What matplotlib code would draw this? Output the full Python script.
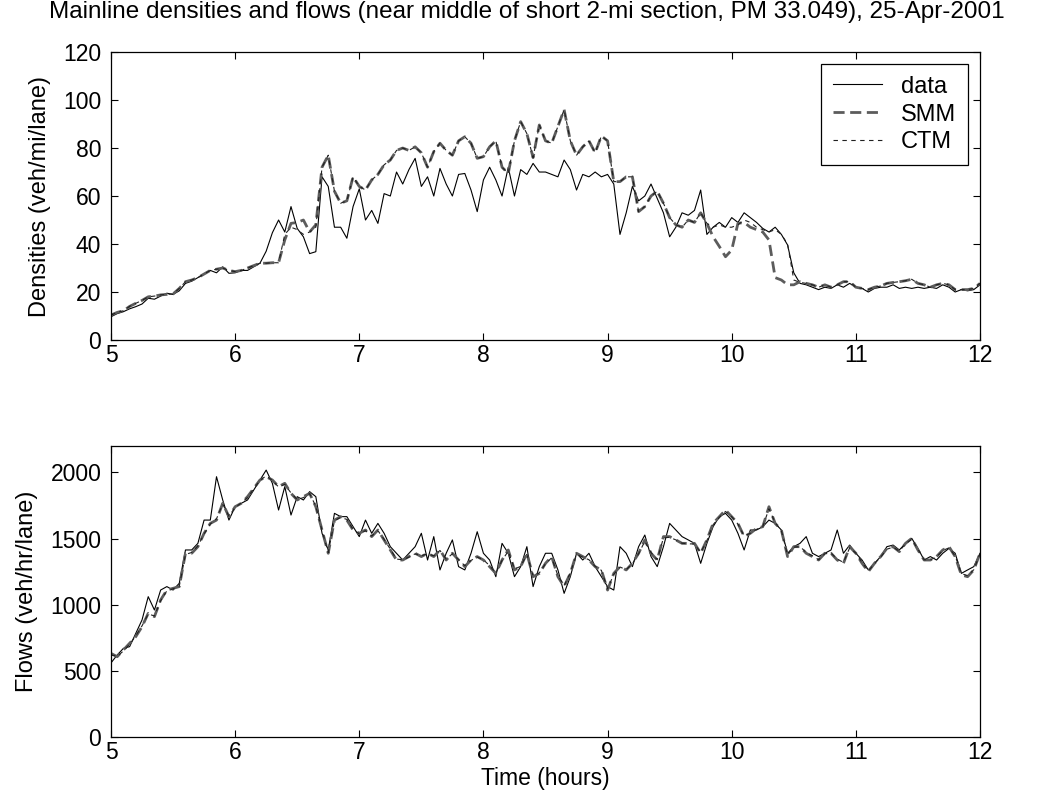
import numpy as np
import matplotlib
matplotlib.use('Agg')
from matplotlib import pyplot as plt

plt.rcParams['font.family'] = ['Liberation Sans', 'DejaVu Sans']

# sample times, every 3 minutes from 5:00 to 12:00
hours = np.linspace(5, 12, 141)

dens_data = [9.7, 11, 11.8, 13, 13.9, 15, 17.4, 17, 18.3, 19.5,
             19, 20.5, 23.6, 24.5, 26, 27.5, 29, 28, 30.5, 27.8,
             28, 29, 29, 30.5, 32, 37, 44.7, 50, 45, 55.6,
             46.5, 43, 36, 36.8, 68, 64, 47, 47, 42.4, 55.6,
             63, 50, 54, 48.6, 61, 60, 70, 65, 71, 75.7,
             64, 68, 60, 71.5, 65, 60, 69, 69.4, 62.5, 53.5,
             66.7, 72, 66.7, 60, 72, 60, 71, 69, 73.6, 70,
             70, 69, 68, 75, 71, 62.5, 69, 68, 70, 68,
             69, 65, 44, 53, 64, 58, 60, 65, 59, 53,
             43, 47, 53, 52, 54, 62.5, 44, 47, 49, 47,
             51, 49, 53, 51, 49, 46.5, 45, 47, 44, 39.6,
             28, 23.6, 23, 22, 21, 22, 21.5, 23, 22, 23.6,
             22, 21.5, 20, 21.5, 22, 22, 23, 21.5, 22, 21.5,
             22, 21.5, 22, 21.5, 23, 22, 20, 21, 20.5, 21,
             23]

dens_smm = [10.4, 11.5, 12.2, 14, 15.3, 16.5, 18, 18.3, 18.8, 19,
            19.2, 21.5, 24.3, 25, 26, 27.5, 29, 29.5, 30, 29,
            28.5, 29, 30, 31, 32, 32, 32.2, 32.2, 41.7, 48.6,
            49, 50, 45, 48, 72, 77, 62, 57, 58, 68,
            64, 62.5, 66.7, 69, 73, 75, 79, 80, 79, 80.5,
            78, 72, 78.5, 82, 79, 77, 83, 84.7, 82, 75.7,
            76.4, 80.5, 83, 72, 69.4, 83, 91, 86, 76, 89.6,
            83, 82, 89, 96, 83, 77, 80.5, 83, 78, 85,
            83, 66, 66, 68, 68, 53.5, 55.6, 60, 62, 57,
            51, 48, 47, 50, 49, 53, 48.6, 43, 39, 34.7,
            37.5, 48.6, 49, 47, 46, 45, 41.7, 26, 25, 23,
            23, 24.3, 23.6, 23, 22, 23, 22, 23, 24.3, 24.3,
            22, 21.5, 21, 22, 22.5, 23.6, 24, 24.3, 24.7, 25.3,
            23.6, 23, 22, 23, 23.6, 23, 21, 21, 21, 21.5,
            23.6]

dens_ctm = [10.4, 11.5, 12.2, 14, 15.3, 16.5, 18, 18.3, 18.8, 19,
            19.2, 21.5, 24.3, 25, 26, 27.5, 29, 29.5, 30, 29,
            28.5, 29, 30, 31, 32, 32, 32.2, 32.2, 44, 47,
            46, 44, 45, 47, 72, 77, 62, 57, 58, 68,
            64, 62.5, 66.7, 69, 73, 75, 79, 80, 79, 80.5,
            78, 72, 78.5, 82, 79, 77, 83, 84.7, 82, 75.7,
            76.4, 80.5, 83, 72, 69.4, 83, 91, 86, 76, 89.6,
            83, 82, 89, 96, 83, 77, 80.5, 83, 78, 85,
            83, 66, 66, 68, 68, 53.5, 55.6, 60, 62, 57,
            51, 48, 47, 50, 49, 53, 48.6, 47, 48, 47,
            47, 48, 50, 49, 47, 46, 45, 46, 44, 40,
            25, 24, 23.6, 23, 22, 23, 22, 23, 24.3, 24.3,
            22, 21.5, 21, 22, 22.5, 23.6, 24, 24.3, 24.7, 25.3,
            23.6, 23, 22, 23, 23.6, 23, 21, 21, 21, 21.5,
            23.6]

flow_data = [560, 620, 670, 683, 784, 885, 1061, 960, 1111, 1137,
             1111, 1162, 1414, 1414, 1464, 1640, 1640, 1968, 1792, 1640,
             1741, 1767, 1792, 1867, 1943, 2018, 1918, 1716, 1893, 1678,
             1817, 1792, 1855, 1817, 1540, 1414, 1691, 1666, 1666, 1590,
             1515, 1640, 1540, 1615, 1540, 1439, 1389, 1338, 1389, 1439,
             1540, 1338, 1515, 1263, 1389, 1490, 1288, 1263, 1389, 1552,
             1389, 1338, 1212, 1464, 1389, 1212, 1288, 1439, 1137, 1288,
             1389, 1389, 1263, 1086, 1212, 1389, 1338, 1389, 1288, 1212,
             1137, 1111, 1439, 1389, 1288, 1439, 1527, 1364, 1288, 1439,
             1615, 1565, 1515, 1490, 1464, 1313, 1464, 1590, 1666, 1691,
             1640, 1540, 1414, 1565, 1565, 1590, 1640, 1615, 1565, 1389,
             1439, 1464, 1515, 1389, 1364, 1389, 1414, 1565, 1389, 1451,
             1389, 1338, 1263, 1313, 1364, 1439, 1451, 1414, 1464, 1502,
             1426, 1338, 1364, 1338, 1389, 1426, 1389, 1237, 1263, 1288,
             1389]

flow_smm = [632, 607, 658, 708, 759, 834, 935, 910, 1036, 1111,
            1124, 1137, 1389, 1389, 1439, 1540, 1615, 1640, 1767, 1666,
            1741, 1767, 1817, 1880, 1943, 1968, 1943, 1893, 1918, 1842,
            1792, 1817, 1842, 1741, 1565, 1389, 1640, 1666, 1640, 1565,
            1540, 1565, 1515, 1565, 1490, 1414, 1338, 1338, 1364, 1389,
            1364, 1389, 1364, 1414, 1338, 1389, 1338, 1288, 1338, 1364,
            1338, 1288, 1237, 1338, 1414, 1263, 1288, 1389, 1212, 1237,
            1313, 1364, 1212, 1137, 1237, 1389, 1364, 1338, 1288, 1263,
            1111, 1237, 1288, 1263, 1313, 1389, 1490, 1389, 1338, 1515,
            1515, 1490, 1464, 1464, 1464, 1389, 1490, 1615, 1666, 1716,
            1666, 1615, 1515, 1540, 1577, 1590, 1741, 1615, 1565, 1364,
            1439, 1439, 1389, 1364, 1338, 1389, 1389, 1338, 1313, 1439,
            1389, 1313, 1250, 1313, 1364, 1426, 1439, 1401, 1464, 1502,
            1414, 1338, 1338, 1364, 1414, 1439, 1364, 1225, 1212, 1263,
            1389]

flow_ctm = [620, 610, 650, 700, 765, 840, 930, 915, 1030, 1105,
            1120, 1140, 1380, 1395, 1445, 1535, 1610, 1650, 1760, 1670,
            1735, 1770, 1810, 1875, 1940, 1975, 1940, 1890, 1910, 1845,
            1795, 1810, 1840, 1745, 1560, 1395, 1635, 1660, 1645, 1570,
            1535, 1560, 1520, 1560, 1495, 1420, 1345, 1340, 1360, 1385,
            1370, 1385, 1370, 1410, 1345, 1385, 1340, 1295, 1335, 1360,
            1340, 1295, 1240, 1335, 1405, 1270, 1290, 1380, 1220, 1240,
            1310, 1355, 1220, 1145, 1240, 1380, 1360, 1340, 1290, 1260,
            1120, 1230, 1285, 1265, 1310, 1385, 1480, 1395, 1340, 1505,
            1510, 1490, 1465, 1460, 1460, 1395, 1485, 1605, 1660, 1705,
            1665, 1610, 1520, 1540, 1570, 1590, 1725, 1620, 1560, 1375,
            1435, 1440, 1395, 1370, 1340, 1385, 1390, 1345, 1320, 1430,
            1390, 1320, 1255, 1310, 1360, 1420, 1435, 1405, 1460, 1495,
            1420, 1340, 1340, 1360, 1410, 1430, 1370, 1235, 1220, 1265,
            1385]

series_names = ['data', 'SMM', 'CTM']

fig = plt.figure(figsize=(10.54, 8.08), dpi=100)
ax1 = fig.add_axes([0.1053, 0.5792, 0.8245, 0.3564])
ax2 = fig.add_axes([0.1053, 0.0879, 0.8245, 0.3601])

fs = 16.5


def draw(ax, d, s, c):
    ax.plot(hours, d, color='black', lw=0.8, label=series_names[0])
    ax.plot(hours, s, color='#5c5c5c', lw=2.0, dashes=(4, 2), label=series_names[1])
    ax.plot(hours, c, color='#202020', lw=0.8, dashes=(4, 4), label=series_names[2])
    ax.set_xlim(5, 12)
    ax.set_xticks(range(5, 13))
    ax.tick_params(direction='in', length=5, width=0.8, top=True, right=True,
                   labelsize=fs)
    ax.tick_params(axis='x', pad=3)
    ax.tick_params(axis='y', pad=7)
    for sp in ax.spines.values():
        sp.set_linewidth(0.9)


draw(ax1, dens_data, dens_smm, dens_ctm)
ax1.set_ylim(0, 120)
ax1.set_yticks(range(0, 121, 20))
ax1.set_ylabel('Densities (veh/mi/lane)', fontsize=17, labelpad=9)
leg = ax1.legend(loc='upper right', fontsize=17, fancybox=False, framealpha=1,
                 edgecolor='black', handlelength=2.1, borderaxespad=0.5,
                 labelspacing=0.25, handletextpad=0.8, borderpad=0.5)
leg.get_frame().set_linewidth(0.9)

draw(ax2, flow_data, flow_smm, flow_ctm)
ax2.set_ylim(0, 2200)
ax2.set_yticks(range(0, 2001, 500))
ax2.set_ylabel('Flows (veh/hr/lane)', fontsize=17, labelpad=9)
ax2.set_xlabel('Time (hours)', fontsize=fs, labelpad=2)

fig.text(0.5, 1 - 12 / 808,
         'Mainline densities and flows (near middle of short 2-mi section, PM 33.049), 25-Apr-2001',
         ha='center', va='center', fontsize=17.5)

fig.savefig('out.png', dpi=100)
